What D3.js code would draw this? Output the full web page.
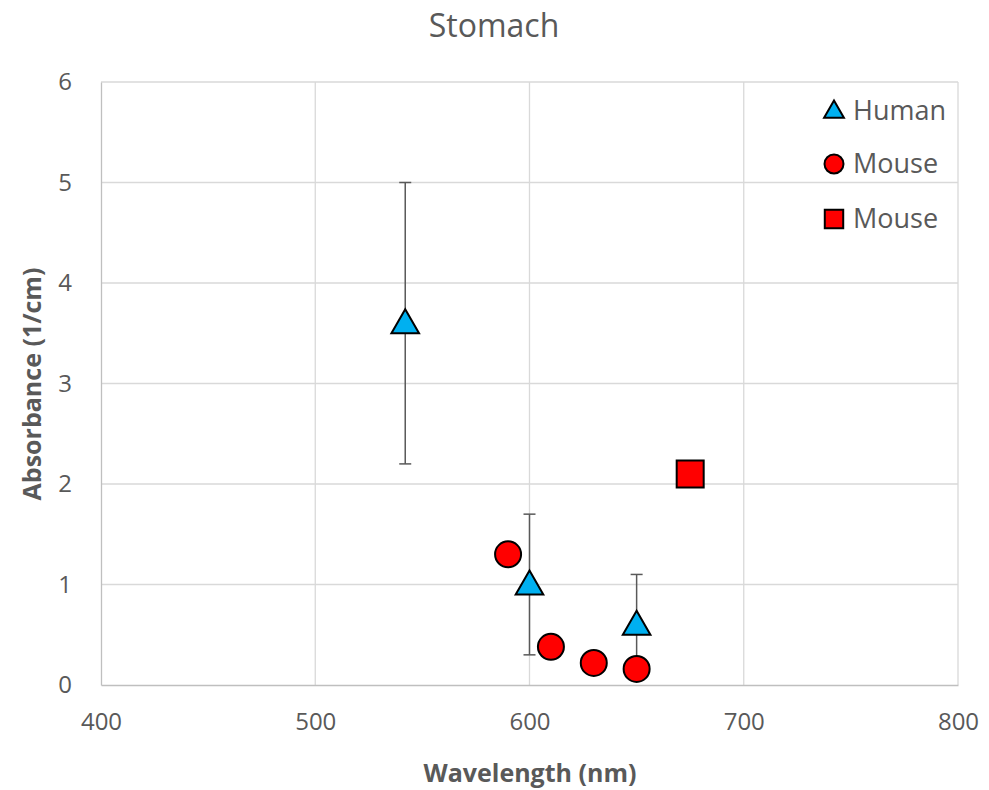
<!DOCTYPE html>
<html><head><meta charset="utf-8">
<script src="https://cdn.jsdelivr.net/npm/d3@7"></script>
<style>body{margin:0;background:#fff;} svg{font-family:"Open Sans", sans-serif;}</style>
</head><body>
<svg id="c" width="989" height="790"></svg>
<script>
const humanX = [542, 600, 650];
const humanY = [3.6, 1.0, 0.6];
const humanLo = [2.2, 0.3, 0.1];
const humanHi = [5.0, 1.7, 1.1];
const mouseCircleX = [590, 610, 630, 650];
const mouseCircleY = [1.3, 0.38, 0.22, 0.16];
const mouseSquareX = [675];
const mouseSquareY = [2.1];
const xTicks = [400, 500, 600, 700, 800];
const yTicks = [0, 1, 2, 3, 4, 5, 6];
const legendLabels = ["Human", "Mouse", "Mouse"];

const svg = d3.select("#c");
const m = {l:101, r:958, t:82, b:685};
const x = d3.scaleLinear().domain([400, 800]).range([m.l, m.r]);
const y = d3.scaleLinear().domain([0, 6]).range([m.b, m.t]);
const txt = "#595959";
const ff = '"Open Sans", sans-serif';

// gridlines
svg.append("g").selectAll("line").data(yTicks.filter(d=>d>0)).join("line")
  .attr("x1", m.l).attr("x2", m.r).attr("y1", d=>y(d)).attr("y2", d=>y(d))
  .attr("stroke", "#d9d9d9").attr("stroke-width", 1.3);
svg.append("g").selectAll("line").data(xTicks.filter(d=>d>400)).join("line")
  .attr("y1", m.t).attr("y2", m.b).attr("x1", d=>x(d)).attr("x2", d=>x(d))
  .attr("stroke", "#d9d9d9").attr("stroke-width", 1.3);

// axes
const xa = svg.append("g").attr("transform", `translate(0,${m.b})`)
  .call(d3.axisBottom(x).tickValues(xTicks).tickFormat(d3.format("d")).tickSize(0).tickPadding(25));
xa.select(".domain").attr("stroke", "#bfbfbf").attr("stroke-width", 1.3);
xa.selectAll("text").attr("fill", txt).attr("font-size", 24).attr("font-family", ff).attr("dy", "0.85em");
const ya = svg.append("g").attr("transform", `translate(${m.l},0)`)
  .call(d3.axisLeft(y).tickValues(yTicks).tickFormat(d3.format("d")).tickSize(0).tickPadding(29));
ya.select(".domain").attr("stroke", "#bfbfbf").attr("stroke-width", 1.3);
ya.selectAll("text").attr("fill", txt).attr("font-size", 24).attr("font-family", ff);

// titles
svg.append("text").attr("x", 494).attr("y", 37).attr("text-anchor", "middle")
  .attr("fill", txt).attr("font-size", 32).text("Stomach");
svg.append("text").attr("x", 530).attr("y", 782).attr("text-anchor", "middle")
  .attr("fill", txt).attr("font-size", 25).attr("font-weight", "bold").text("Wavelength (nm)");
svg.append("text").attr("transform", `translate(41,384) rotate(-90)`).attr("text-anchor", "middle")
  .attr("fill", txt).attr("font-size", 25).attr("font-weight", "bold").text("Absorbance (1/cm)");

// error bars
const eb = svg.append("g").attr("stroke", "#595959").attr("stroke-width", 1.5);
humanX.forEach((xv, i) => {
  eb.append("line").attr("x1", x(xv)).attr("x2", x(xv)).attr("y1", y(humanLo[i])).attr("y2", y(humanHi[i]));
  [humanLo[i], humanHi[i]].forEach(v => eb.append("line").attr("x1", x(xv)-6).attr("x2", x(xv)+6).attr("y1", y(v)).attr("y2", y(v)));
});

const tri = d3.symbol().type(d3.symbolTriangle).size(330);
const sq = d3.symbol().type(d3.symbolSquare).size(729);

// markers
svg.append("g").selectAll("circle").data(mouseCircleX).join("circle")
  .attr("cx", d=>x(d)).attr("cy", (d,i)=>y(mouseCircleY[i])).attr("r", 13)
  .attr("fill", "#ff0000").attr("stroke", "#000").attr("stroke-width", 2);
svg.append("g").selectAll("path").data(humanX).join("path")
  .attr("d", tri).attr("transform", (d,i)=>`translate(${x(d)},${y(humanY[i])+2})`)
  .attr("fill", "#00b0f0").attr("stroke", "#000").attr("stroke-width", 2);
svg.append("g").selectAll("path").data(mouseSquareX).join("path")
  .attr("d", sq).attr("transform", (d,i)=>`translate(${x(d)},${y(mouseSquareY[i])})`)
  .attr("fill", "#ff0000").attr("stroke", "#000").attr("stroke-width", 2);

// legend
const lg = svg.append("g");
const ly = [111, 164, 219];
lg.append("path").attr("d", d3.symbol().type(d3.symbolTriangle).size(170)).attr("transform", `translate(834,${ly[0]+1})`)
  .attr("fill", "#00b0f0").attr("stroke", "#000").attr("stroke-width", 2);
lg.append("circle").attr("cx", 834).attr("cy", ly[1]).attr("r", 9.5)
  .attr("fill", "#ff0000").attr("stroke", "#000").attr("stroke-width", 2);
lg.append("path").attr("d", d3.symbol().type(d3.symbolSquare).size(340)).attr("transform", `translate(834,${ly[2]})`)
  .attr("fill", "#ff0000").attr("stroke", "#000").attr("stroke-width", 2);
lg.selectAll("text").data(legendLabels).join("text")
  .attr("x", 853).attr("y", (d,i)=>ly[i]).attr("dy", "0.35em")
  .attr("fill", txt).attr("font-size", 27).attr("font-family", ff).text(d=>d);
</script>
</body></html>
